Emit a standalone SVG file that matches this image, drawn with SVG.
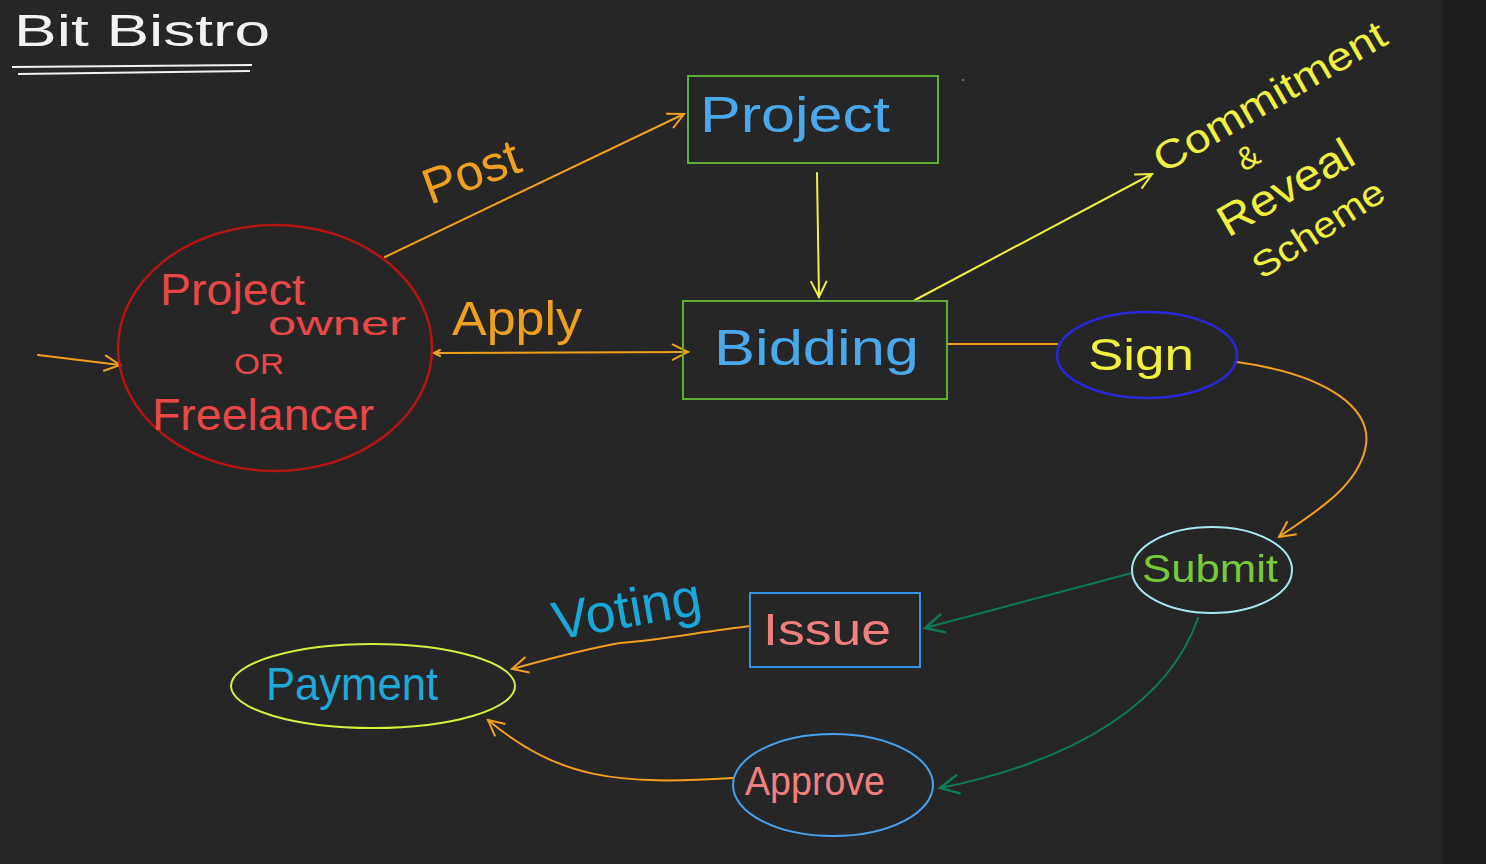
<svg xmlns="http://www.w3.org/2000/svg" width="1486" height="864" viewBox="0 0 1486 864">
<style>
text{font-family:"Liberation Sans","DejaVu Sans",sans-serif;}
.c{fill:none;stroke-width:2;stroke-linecap:round;}
.or{stroke:#f0a020;}
.ye{stroke:#f0f040;}
.tg{stroke:#0f7a5a;}
.box{fill:none;stroke-width:2;}
</style>
<defs>
<marker id="aO" viewBox="0 0 20 20" refX="18" refY="10" markerWidth="20" markerHeight="20" markerUnits="userSpaceOnUse" orient="auto"><path d="M2,2 L18,10 L2,18" fill="none" stroke="#f0a020" stroke-width="2"/></marker>
<marker id="aY" viewBox="0 0 20 20" refX="18" refY="10" markerWidth="20" markerHeight="20" markerUnits="userSpaceOnUse" orient="auto"><path d="M2,2 L18,10 L2,18" fill="none" stroke="#f0f040" stroke-width="2"/></marker>
<marker id="aG" viewBox="0 0 20 20" refX="18" refY="10" markerWidth="24" markerHeight="24" markerUnits="userSpaceOnUse" orient="auto"><path d="M2,2 L18,10 L2,18" fill="none" stroke="#0f7a5a" stroke-width="2"/></marker>
</defs>
<rect width="1486" height="864" fill="#262626"/>
<rect x="1443" width="43" height="864" fill="#1e1e1e"/>
<circle cx="963" cy="80" r="1" fill="#888"/>

<g id="title">
<text x="14" y="46" font-size="44" fill="#f2f2f2" textLength="256" lengthAdjust="spacingAndGlyphs">Bit Bistro</text>
<path d="M12,67 L252,65 M18,74 L250,71" stroke="#f2f2f2" stroke-width="2" fill="none"/>
</g>

<g id="connectors">
<path class="c or" d="M38,355 L120,365" marker-end="url(#aO)"/>
<path class="c or" d="M385,257 L684,114" marker-end="url(#aO)"/>
<path class="c or" d="M434,353 L688,352" marker-end="url(#aO)"/>
<path class="c or" d="M440,350 L434,353 L440,356"/>
<path class="c ye" d="M817,173 L819,297" marker-end="url(#aY)"/>
<path class="c ye" d="M915,300 L1152,174" marker-end="url(#aY)"/>
<path class="c or" d="M947,344 L1057,344"/>
<path class="c or" d="M1237,362 C1330,375 1375,410 1365,450 C1355,490 1310,515 1279,537" marker-end="url(#aO)"/>
<path class="c tg" d="M1132,573 L925,628" marker-end="url(#aG)"/>
<path class="c tg" d="M1198,618 C1170,700 1080,760 940,788" marker-end="url(#aG)"/>
<path class="c or" d="M750,626 C700,632 660,640 620,643 C580,650 545,660 512,669" marker-end="url(#aO)"/>
<path class="c or" d="M733,778 C620,785 560,780 488,720" marker-end="url(#aO)"/>
</g>

<g id="project">
<rect class="box" x="688" y="76" width="250" height="87" stroke="#5fae35"/>
<text x="700" y="132" font-size="50" fill="#4aa8ec" textLength="190" lengthAdjust="spacingAndGlyphs">Project</text>
</g>

<g id="bidding">
<rect class="box" x="683" y="301" width="264" height="98" stroke="#5fae35"/>
<text x="714" y="365" font-size="50" fill="#4aa8ec" textLength="205" lengthAdjust="spacingAndGlyphs">Bidding</text>
</g>

<g id="owner">
<ellipse cx="275" cy="348" rx="157" ry="123" fill="none" stroke="#b81414" stroke-width="2.5"/>
<text x="160" y="305" font-size="44" fill="#e84848" textLength="145" lengthAdjust="spacingAndGlyphs">Project</text>
<text x="268" y="335" font-size="34" fill="#e84848" textLength="138" lengthAdjust="spacingAndGlyphs">owner</text>
<text x="234" y="374" font-size="30" fill="#e84848" textLength="50" lengthAdjust="spacingAndGlyphs">OR</text>
<text x="152" y="430" font-size="44" fill="#e84848" textLength="222" lengthAdjust="spacingAndGlyphs">Freelancer</text>
</g>

<g id="labels">
<text x="0" y="0" font-size="50" fill="#f0a020" transform="translate(430,205) rotate(-20)" textLength="100" lengthAdjust="spacingAndGlyphs">Post</text>
<text x="452" y="335" font-size="48" fill="#f0a020" textLength="130" lengthAdjust="spacingAndGlyphs">Apply</text>
<text x="0" y="0" font-size="54" fill="#1aa8d8" transform="translate(556,640) rotate(-10)" textLength="150" lengthAdjust="spacingAndGlyphs">Voting</text>
</g>

<g id="commitment">
<text x="0" y="0" font-size="40" fill="#f0f040" transform="translate(1163,174) rotate(-30)" textLength="262" lengthAdjust="spacingAndGlyphs">Commitment</text>
<text x="0" y="0" font-size="32" fill="#f0f040" transform="translate(1244,172) rotate(-30)">&amp;</text>
<text x="0" y="0" font-size="44" fill="#f0f040" transform="translate(1228,238) rotate(-30)" textLength="150" lengthAdjust="spacingAndGlyphs">Reveal</text>
<text x="0" y="0" font-size="36" fill="#f0f040" transform="translate(1262,280) rotate(-33)" textLength="150" lengthAdjust="spacingAndGlyphs">Scheme</text>
</g>

<g id="sign">
<ellipse cx="1147" cy="355" rx="90" ry="43" fill="none" stroke="#2828d8" stroke-width="2.5"/>
<text x="1088" y="370" font-size="44" fill="#f0f040" textLength="106" lengthAdjust="spacingAndGlyphs">Sign</text>
</g>

<g id="submit">
<ellipse cx="1212" cy="570" rx="80" ry="43" fill="none" stroke="#a8e8f4" stroke-width="2"/>
<text x="1142" y="582" font-size="38" fill="#78c83a" textLength="136" lengthAdjust="spacingAndGlyphs">Submit</text>
</g>

<g id="issue">
<rect class="box" x="750" y="593" width="170" height="74" stroke="#3a90e4"/>
<text x="763" y="645" font-size="44" fill="#f08080" textLength="128" lengthAdjust="spacingAndGlyphs">Issue</text>
</g>

<g id="payment">
<ellipse cx="373" cy="686" rx="142" ry="42" fill="none" stroke="#d8f040" stroke-width="2"/>
<text x="266" y="700" font-size="46" fill="#20a8d8" textLength="172" lengthAdjust="spacingAndGlyphs">Payment</text>
</g>

<g id="approve">
<ellipse cx="833" cy="785" rx="100" ry="51" fill="none" stroke="#4aa0e8" stroke-width="2"/>
<text x="745" y="795" font-size="40" fill="#f08080" textLength="140" lengthAdjust="spacingAndGlyphs">Approve</text>
</g>
</svg>
